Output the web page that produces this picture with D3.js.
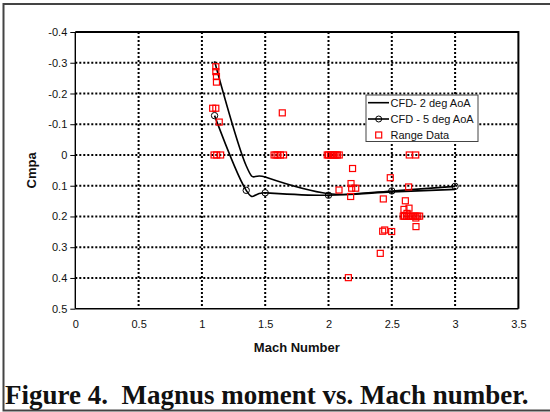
<!DOCTYPE html>
<html>
<head>
<meta charset="utf-8">
<script src="https://cdn.jsdelivr.net/npm/d3@7"></script>
<style>
  body { margin: 0; background: #fff; }
  svg { display: block; }
  text { font-family: Arial, "Liberation Sans", sans-serif; fill: #111; }
</style>
</head>
<body>
<div id="chart"></div>
<script>
// CFD curves
var cfd2Mach = [1.1, 1.35, 1.5, 2.0, 2.5, 3.0];
var cfd2Cmpa = [-0.305, 0.035, 0.072, 0.126, 0.12, 0.112];
var cfd5Mach = [1.1, 1.35, 1.5, 2.0, 2.5, 3.0];
var cfd5Cmpa = [-0.128, 0.115, 0.123, 0.131, 0.117, 0.102];

// range data (spark range)
var rangeMach = [1.11, 1.11, 1.115, 1.115, 1.085, 1.11, 1.137, 1.096, 1.117, 1.148,
  1.635, 1.57, 1.585, 1.60, 1.62, 1.645,
  1.99, 2.0, 2.015, 2.03, 2.04, 2.05, 2.06, 2.07, 2.085,
  2.19, 2.178, 2.183, 2.215, 2.083, 2.175,
  2.433, 2.409, 2.157, 2.428, 2.444, 2.499, 2.488,
  2.638, 2.689,
  2.633, 2.607, 2.596, 2.636,
  2.59, 2.60, 2.615, 2.63, 2.645, 2.66, 2.675, 2.69, 2.705, 2.72, 2.62, 2.69,
  2.691];
var rangeCmpa = [-0.287, -0.271, -0.255, -0.237, -0.152, -0.152, -0.107, 0, 0, 0,
  -0.137, 0, 0, 0, 0, 0,
  0, 0, 0, 0, 0, 0, 0, 0, 0,
  0.044, 0.093, 0.108, 0.108, 0.114, 0.135,
  0.143, 0.320, 0.399, 0.248, 0.244, 0.249, 0.074,
  0, 0,
  0.104, 0.149, 0.177, 0.173,
  0.199, 0.199, 0.199, 0.199, 0.199, 0.199, 0.199, 0.199, 0.199, 0.199, 0.19, 0.205,
  0.233];

var xTicks = [0, 0.5, 1, 1.5, 2, 2.5, 3, 3.5];
var yTicks = [-0.4, -0.3, -0.2, -0.1, 0, 0.1, 0.2, 0.3, 0.4, 0.5];
var legendNames = ["CFD- 2 deg AoA", "CFD - 5 deg AoA", "Range Data"];

function drawChart() {
  var width = 550, height = 412;
  var svg = d3.select("#chart").append("svg").attr("width", width).attr("height", height);

  // outer frame
  svg.append("rect").attr("x", 3.5).attr("y", 4).attr("width", 560).attr("height", 406.5)
    .attr("fill", "#fff").attr("stroke", "#444").attr("stroke-width", 2);

  var pl = 75.3, pr = 518.4, pt = 32, pb = 308.7;
  var x = d3.scaleLinear().domain([0, 3.5]).range([pl, pr]);
  var y = d3.scaleLinear().domain([-0.4, 0.5]).range([pt, pb]);

  // grid
  var grid = svg.append("g").attr("stroke", "#000").attr("stroke-width", 2).attr("stroke-dasharray", "2,2");
  grid.selectAll("line.h").data(yTicks.slice(1, -1)).enter().append("line")
    .attr("x1", pl).attr("x2", pr).attr("y1", function (d) { return y(d); }).attr("y2", function (d) { return y(d); });
  grid.selectAll("line.v").data(xTicks.slice(1, -1)).enter().append("line")
    .attr("y1", pt).attr("y2", pb).attr("x1", function (d) { return x(d); }).attr("x2", function (d) { return x(d); });

  // plot border (top + right)
  svg.append("path").attr("d", "M" + pl + "," + pt + "H" + pr + "V" + pb)
    .attr("fill", "none").attr("stroke", "#000").attr("stroke-width", 2);

  // axes
  var yAxis = d3.axisLeft(y).tickValues(yTicks).tickSize(5).tickPadding(3)
    .tickFormat(function (d) { return String(+d.toFixed(1)); });
  var gy = svg.append("g").attr("transform", "translate(" + pl + ",0)").call(yAxis);
  var xAxis = d3.axisBottom(x).tickValues(xTicks).tickSize(0).tickPadding(12)
    .tickFormat(function (d) { return String(d); });
  var gx = svg.append("g").attr("transform", "translate(0," + pb + ")").call(xAxis);
  [gx, gy].forEach(function (g) {
    g.selectAll("text").style("font-size", "11px").attr("fill", "#111");
    g.selectAll(".tick line").attr("stroke", "#000");
    g.select(".domain").attr("stroke", "#000").attr("stroke-width", 1.4);
  });
  gy.select(".domain").attr("d", "M0," + pt + "V" + pb);
  gx.select(".domain").attr("d", "M" + pl + ",0H" + pr);

  svg.append("text").attr("x", (pl + pr) / 2).attr("y", 352).attr("text-anchor", "middle")
    .style("font-size", "13px").style("font-weight", "bold").text("Mach Number");
  svg.append("text").attr("transform", "translate(36," + ((pt + pb) / 2) + ") rotate(-90)")
    .attr("text-anchor", "middle").style("font-size", "13px").style("font-weight", "bold").text("Cmpa");

  // CFD lines
  var line = d3.line().x(function (d) { return x(d[0]); }).y(function (d) { return y(d[1]); })
    .curve(d3.curveCardinal.tension(0));
  var cfd2 = d3.zip(cfd2Mach, cfd2Cmpa);
  var cfd5 = d3.zip(cfd5Mach, cfd5Cmpa);
  svg.append("path").attr("d", line(cfd2)).attr("fill", "none").attr("stroke", "#000").attr("stroke-width", 1.6);
  svg.append("path").attr("d", line(cfd5)).attr("fill", "none").attr("stroke", "#000").attr("stroke-width", 1.6);
  svg.selectAll("circle.cfd5").data(cfd5).enter().append("circle")
    .attr("cx", function (d) { return x(d[0]); }).attr("cy", function (d) { return y(d[1]); })
    .attr("r", 3.2).attr("fill", "none").attr("stroke", "#000").attr("stroke-width", 1);

  // range data squares
  var sq = 6;
  svg.selectAll("rect.range").data(d3.zip(rangeMach, rangeCmpa)).enter().append("rect")
    .attr("x", function (d) { return x(d[0]) - sq / 2; }).attr("y", function (d) { return y(d[1]) - sq / 2; })
    .attr("width", sq).attr("height", sq).attr("fill", "none").attr("stroke", "#f00").attr("stroke-width", 1.2);

  // legend
  var lg = svg.append("g").attr("transform", "translate(366,95)");
  lg.append("rect").attr("width", 112).attr("height", 46.5).attr("fill", "#fff").attr("stroke", "#444").attr("stroke-width", 1);
  var rows = [7.7, 24, 40];
  lg.append("line").attr("x1", 2).attr("x2", 23).attr("y1", rows[0]).attr("y2", rows[0]).attr("stroke", "#000").attr("stroke-width", 1.6);
  lg.append("line").attr("x1", 2).attr("x2", 23).attr("y1", rows[1]).attr("y2", rows[1]).attr("stroke", "#000").attr("stroke-width", 1.6);
  lg.append("circle").attr("cx", 12.7).attr("cy", rows[1]).attr("r", 3).attr("fill", "none").attr("stroke", "#000");
  lg.append("rect").attr("x", 12.7 - sq / 2).attr("y", rows[2] - sq / 2).attr("width", sq).attr("height", sq)
    .attr("fill", "none").attr("stroke", "#f00").attr("stroke-width", 1.2);
  lg.selectAll("text").data(legendNames).enter().append("text")
    .attr("x", 24.5).attr("y", function (d, i) { return rows[i] + 4; })
    .style("font-size", "11px").text(function (d) { return d; });

  // caption
  svg.append("text").attr("x", 5).attr("y", 404)
    .style("font-family", "'Liberation Serif', 'Times New Roman', serif").style("font-weight", "bold")
    .style("font-size", "27px").style("white-space", "pre").attr("fill", "#000")
    .text("Figure 4.  Magnus moment vs. Mach number.");
}

drawChart();
</script>
</body>
</html>
